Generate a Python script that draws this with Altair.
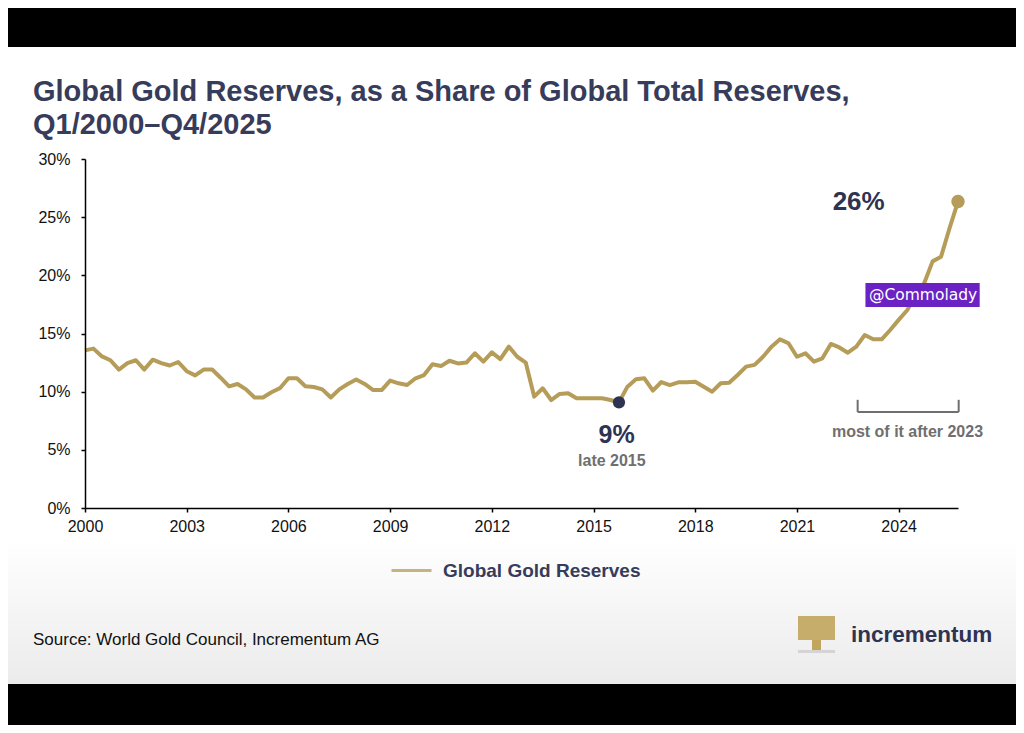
import altair as alt
import pandas as pd

GOLD = "#b59c58"
NAVY = "#2e3352"
TITLE_C = "#373c5a"
GREY_T = "#6f6f6f"

# ---- data ----
years = list(range(2000, 2026))
share = [
    13.55, 13.70, 13.03, 12.70,   # 2000
    11.90, 12.45, 12.70, 11.90,   # 2001
    12.75, 12.45, 12.25, 12.55,   # 2002
    11.76, 11.40, 11.90, 11.90,   # 2003
    11.20, 10.46, 10.66, 10.20,   # 2004
    9.50, 9.50, 9.95, 10.30,      # 2005
    11.15, 11.15, 10.46, 10.40,   # 2006
    10.20, 9.50, 10.20, 10.66,    # 2007
    11.04, 10.66, 10.14, 10.14,   # 2008
    10.95, 10.72, 10.57, 11.15,   # 2009
    11.43, 12.35, 12.20, 12.66,   # 2010
    12.43, 12.50, 13.30, 12.58,   # 2011
    13.38, 12.80, 13.87, 13.00,   # 2012
    12.50, 9.57, 10.29, 9.28,     # 2013
    9.80, 9.86, 9.43, 9.43,       # 2014
    9.43, 9.43, 9.28, 9.08,       # 2015
    10.43, 11.06, 11.15, 10.09,   # 2016
    10.83, 10.57, 10.80, 10.80,   # 2017
    10.86, 10.43, 10.00, 10.72,   # 2018
    10.77, 11.43, 12.15, 12.30,   # 2019
    13.00, 13.87, 14.50, 14.16,   # 2020
    13.00, 13.30, 12.58, 12.87,   # 2021
    14.10, 13.80, 13.35, 13.87,   # 2022
    14.87, 14.50, 14.50, 15.30,   # 2023
    16.17, 17.00, 18.30, 19.30,   # 2024
    21.20, 21.60, 24.05, 26.34,   # 2025
]
quarter_pos = [y + q / 4 for y in years for q in range(4)]
quarter_lbl = [f"Q{q + 1}/{y}" for y in years for q in range(4)]
x_ticks = [2000, 2003, 2006, 2009, 2012, 2015, 2018, 2021, 2024]
y_ticks = [0, 5, 10, 15, 20, 25, 30]
series_name = "Global Gold Reserves"

df = pd.DataFrame({"t": quarter_pos, "share": share, "quarter": quarter_lbl,
                   "series": series_name})

low_pt = df[df["quarter"] == "Q4/2015"]
end_pt = df[df["quarter"] == "Q4/2025"]

x_scale = alt.Scale(domain=[2000, 2025.75], nice=False, zero=False)
y_scale = alt.Scale(domain=[0, 30], nice=False, zero=True)

FONT = "Liberation Sans"

one = pd.DataFrame({"k": [0]})


def pix_rect(x, x2, y, y2, fill, **kw):
    return alt.Chart(one).mark_rect(fill=fill, **kw).encode(
        x=alt.value(x), x2=alt.value(x2), y=alt.value(y), y2=alt.value(y2))


def pix_text(text, x, y, **kw):
    return alt.Chart(pd.DataFrame({"label": [text]})).mark_text(font=FONT, **kw).encode(
        x=alt.value(x), y=alt.value(y), text="label:N")


def data_text(text, t, s, **kw):
    return alt.Chart(pd.DataFrame({"t": [t], "share": [s], "label": [text]})).mark_text(
        font=FONT, **kw).encode(
        x=alt.X("t:Q", scale=x_scale), y=alt.Y("share:Q", scale=y_scale), text="label:N")


# backgrounds
top_band = pix_rect(-77, 931, -151, -112, "#000000")
bottom_band = pix_rect(-77, 931, 525, 566, "#000000")
grad = pix_rect(-77, 931, 381, 525, alt.Gradient(
    gradient="linear",
    stops=[alt.GradientStop(color="#ffffff", offset=0),
           alt.GradientStop(color="#ebebeb", offset=1)],
    x1=0, x2=0, y1=0, y2=1))

line = alt.Chart(df).mark_line(strokeWidth=4, strokeJoin="round").encode(
    x=alt.X("t:Q", scale=x_scale,
            axis=alt.Axis(values=x_ticks, format="d", title=None, grid=False,
                          domainColor="#000000", domainWidth=1.5, tickColor="#000000",
                          tickWidth=1.5, tickSize=4, labelFont=FONT, labelFontSize=16,
                          labelColor="#111111", labelPadding=6, labelFlush=False,
                          zindex=1)),
    y=alt.Y("share:Q", scale=y_scale,
            axis=alt.Axis(values=y_ticks, labelExpr="datum.value + '%'", title=None,
                          grid=False, domainColor="#000000", domainWidth=1.5,
                          tickColor="#000000", tickWidth=1.5, tickSize=4, labelFont=FONT,
                          labelFontSize=16, labelColor="#111111", labelPadding=11,
                          zindex=1)),
    color=alt.Color("series:N",
                    scale=alt.Scale(domain=[series_name], range=[GOLD]),
                    legend=alt.Legend(orient="none", legendX=305, legendY=390, title=None,
                                      symbolType="stroke", symbolSize=1600,
                                      symbolStrokeWidth=3, symbolOpacity=0.75,
                                      labelFont=FONT, labelFontSize=19,
                                      labelFontWeight="bold", labelColor=TITLE_C,
                                      labelOffset=10, labelLimit=0, padding=0)),
)

low_dot = alt.Chart(low_pt).mark_circle(size=150, color=NAVY, opacity=1).encode(
    x=alt.X("t:Q", scale=x_scale), y=alt.Y("share:Q", scale=y_scale))
end_dot = alt.Chart(end_pt).mark_circle(size=180, color=GOLD, opacity=1).encode(
    x=alt.X("t:Q", scale=x_scale), y=alt.Y("share:Q", scale=y_scale))

# bracket "most of it after 2023"
br_h = pd.DataFrame({"t": [2022.79], "t2": [2025.77], "share": [8.25]})
br_v = pd.DataFrame({"t": [2022.79, 2025.77], "share": [8.25, 8.25], "s2": [9.3, 9.3]})
bracket_h = alt.Chart(br_h).mark_rule(color=GREY_T, strokeWidth=2).encode(
    x=alt.X("t:Q", scale=x_scale), x2="t2:Q", y=alt.Y("share:Q", scale=y_scale))
bracket_v = alt.Chart(br_v).mark_rule(color=GREY_T, strokeWidth=2).encode(
    x=alt.X("t:Q", scale=x_scale), y=alt.Y("share:Q", scale=y_scale), y2="s2:Q")

# watermark box
wm = pd.DataFrame({"t": [2023.02], "t2": [2026.39], "share": [17.28], "s2": [19.35]})
wm_box = alt.Chart(wm).mark_rect(fill="#6a22c4").encode(
    x=alt.X("t:Q", scale=x_scale), x2="t2:Q", y=alt.Y("share:Q", scale=y_scale), y2="s2:Q")
wm_text = alt.Chart(pd.DataFrame({"t": [2024.72], "share": [18.3], "label": ["@Commolady"]})
                    ).mark_text(font="DejaVu Sans", fontSize=15.5, color="#ffffff",
                                align="center", baseline="middle").encode(
    x=alt.X("t:Q", scale=x_scale), y=alt.Y("share:Q", scale=y_scale), text="label:N")

annots = [
    data_text("26%", 2022.82, 26.3, fontSize=26, fontWeight="bold", color=NAVY,
              align="center", baseline="middle"),
    data_text("9%", 2015.68, 6.28, fontSize=25, fontWeight="bold", color=NAVY,
              align="center", baseline="middle"),
    data_text("late 2015", 2015.54, 4.04, fontSize=16, fontWeight="bold", color=GREY_T,
              align="center", baseline="middle"),
    data_text("most of it after 2023", 2024.26, 6.53, fontSize=16, fontWeight="bold",
              color=GREY_T, align="center", baseline="middle"),
]

texts = [
    pix_text("Global Gold Reserves, as a Share of Global Total Reserves,", -52, -58.3,
             fontSize=29, fontWeight="bold", color=TITLE_C, align="left",
             baseline="alphabetic"),
    pix_text("Q1/2000\u2013Q4/2025", -52, -25.5, fontSize=29, fontWeight="bold",
             color=TITLE_C, align="left", baseline="alphabetic"),
    pix_text("Source: World Gold Council, Incrementum AG", -52, 486, fontSize=17,
             color="#111111", align="left", baseline="alphabetic"),
    pix_text("incrementum", 766, 483, fontSize=22.5, fontWeight="bold", color=NAVY,
             align="left", baseline="alphabetic"),
]

logo = [
    pix_rect(713, 750, 457, 481, "#c2a55c", opacity=0.9),
    pix_rect(727, 736, 481, 494, "#c2a55c"),
    pix_rect(713, 750, 491, 494, "#d4d4d4"),
]

chart = alt.layer(
    top_band, bottom_band, grad, *logo,
    line, low_dot, end_dot, bracket_h, bracket_v, wm_box, wm_text,
    *annots, *texts,
).properties(
    width=873, height=349,
    background="#ffffff",
    padding={"left": 77, "top": 151, "right": 58, "bottom": 217},
    autosize=alt.AutoSizeParams(type="none"),
).configure_view(stroke="transparent")

chart.save("out.html", embed_options={"renderer": "svg", "actions": False})
